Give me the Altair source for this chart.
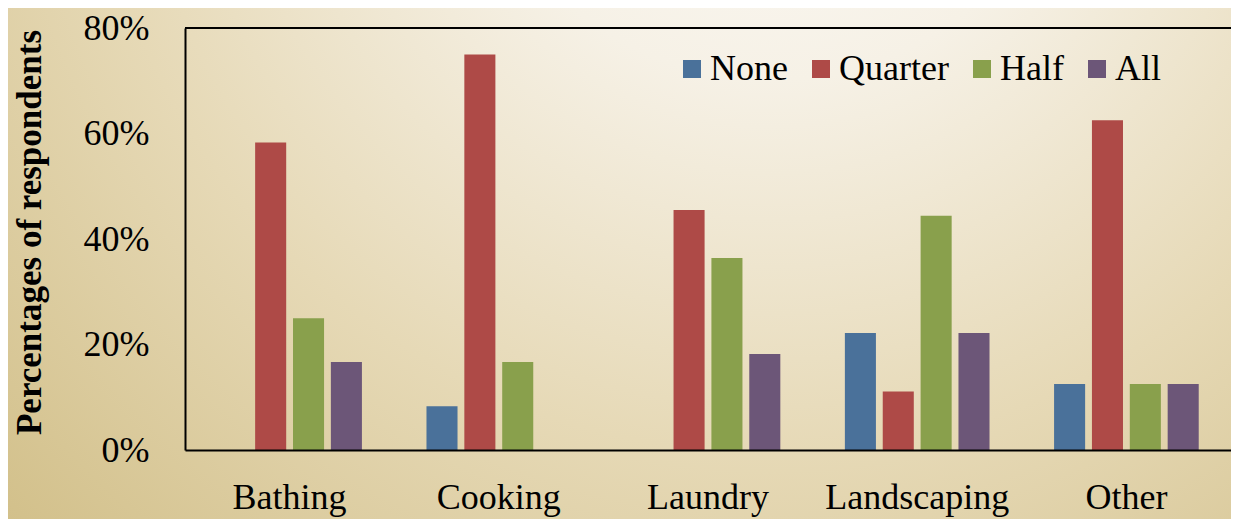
import altair as alt
import pandas as pd

categories = ["Bathing", "Cooking", "Laundry", "Landscaping", "Other"]
series = ["None", "Quarter", "Half", "All"]
none_vals = [0.0, 8.3, 0.0, 22.2, 12.5]
quarter_vals = [58.3, 75.0, 45.5, 11.1, 62.5]
half_vals = [25.0, 16.7, 36.4, 44.4, 12.5]
all_vals = [16.7, 0.0, 18.2, 22.2, 12.5]
colors = ["#4A719A", "#AE4A47", "#89A04C", "#6C5678"]
y_ticks = [0, 20, 40, 60, 80]

FONT = "Liberation Serif"
W, H = 1046, 422

rows = []
for s, vals in zip(series, [none_vals, quarter_vals, half_vals, all_vals]):
    for c, v in zip(categories, vals):
        rows.append({"category": c, "series": s, "value": v})
df = pd.DataFrame(rows)

one = pd.DataFrame({"a": [0]})

bg = alt.Chart(one).mark_rect(
    color=alt.RadialGradient(
        gradient="radial",
        x1=0.62, y1=0.1, r1=0.0,
        x2=0.62, y2=0.1, r2=1.0,
        stops=[
            alt.GradientStop(color="#FDFCFA", offset=0.0),
            alt.GradientStop(color="#F6F1E6", offset=0.25),
            alt.GradientStop(color="#E6D9B6", offset=0.55),
            alt.GradientStop(color="#D3C18C", offset=0.85),
            alt.GradientStop(color="#C9B479", offset=1.0),
        ],
    )
).encode(
    x=alt.value(-185), x2=alt.value(1060),
    y=alt.value(-28), y2=alt.value(505),
)

top_rule = alt.Chart(one).mark_rule(color="black", strokeWidth=2).encode(
    x=alt.value(0), x2=alt.value(W), y=alt.value(0)
)

bars = alt.Chart(df).mark_bar().encode(
    x=alt.X(
        "category:N", sort=categories,
        scale=alt.Scale(paddingInner=0.276, paddingOuter=0.138),
        axis=alt.Axis(
            title=None, labelAngle=0, labelFont=FONT, labelFontSize=36,
            labelColor="black", ticks=False, tickSize=0, domainColor="black",
            domainWidth=2, labelPadding=58, labelBaseline="alphabetic",
            labelLimit=0, zindex=2,
        ),
    ),
    xOffset=alt.XOffset(
        "series:N", sort=series,
        scale=alt.Scale(paddingInner=0.18, paddingOuter=0.09),
    ),
    y=alt.Y(
        "value:Q",
        scale=alt.Scale(domain=[0, 80]),
        axis=alt.Axis(
            values=y_ticks, labelExpr="datum.value + '%'",
            title="Percentages of respondents",
            titleFont=FONT, titleFontSize=35, titleFontWeight="bold",
            titleColor="black", titleX=-145, titleY=204,
            titleAlign="center", titleBaseline="alphabetic", titleAngle=-90,
            labelFont=FONT, labelFontSize=36, labelColor="black",
            ticks=False, tickSize=0, labelPadding=36, grid=False,
            domainColor="black", domainWidth=2, zindex=2,
        ),
    ),
    color=alt.Color(
        "series:N", sort=series,
        scale=alt.Scale(domain=series, range=colors),
        legend=alt.Legend(
            title=None, orient="none", legendX=489, legendY=23,
            direction="horizontal", symbolType="square", symbolSize=324,
            symbolStrokeWidth=0, labelFont=FONT, labelFontSize=36,
            labelColor="black", labelOffset=0, columnPadding=15, padding=0,
        ),
    ),
)

chart = alt.layer(bg, bars, top_rule).properties(
    width=W, height=H,
    padding={"left": 177, "top": 20, "right": 0, "bottom": 69},
    autosize=alt.AutoSizeParams(type="none"),
    background="#E8DCBE",
).configure_view(stroke=None)

chart.save("out.html", embed_options={"renderer": "svg", "actions": False})
